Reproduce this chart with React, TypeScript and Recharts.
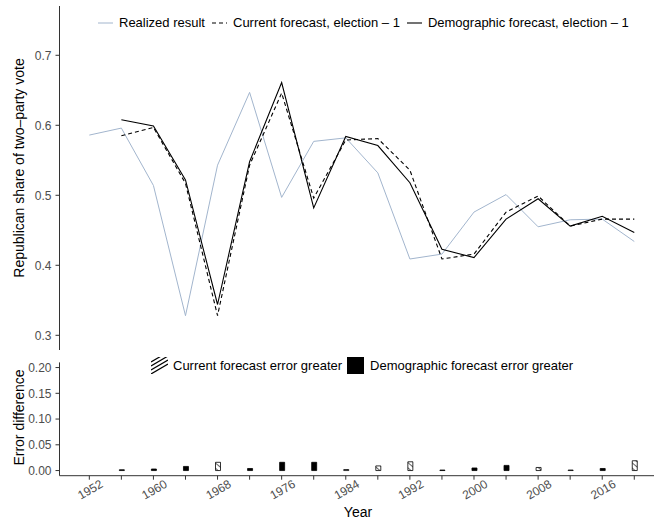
import React from "react";
import { LineChart, Line, BarChart, Bar, XAxis, YAxis, Legend } from "recharts";

const FONT = "'Liberation Sans', Arial, Helvetica, sans-serif";
const AXIS_TEXT = "#4d4d4d";
const AXIS_LINE = "#333333";
const REALIZED_BLUE = "#a2b5cd";

// election years shown on both panels
const years = [1952, 1956, 1960, 1964, 1968, 1972, 1976, 1980, 1984, 1988, 1992, 1996, 2000, 2004, 2008, 2012, 2016, 2020];

// Republican share of the two-party vote
const realized = [0.586, 0.596, 0.514, 0.328, 0.543, 0.647, 0.497, 0.577, 0.582, 0.532, 0.409, 0.416, 0.476, 0.501, 0.455, 0.465, 0.466, 0.434];
const currentForecast = [null, 0.585, 0.597, 0.517, 0.328, 0.543, 0.646, 0.496, 0.579, 0.581, 0.536, 0.409, 0.416, 0.476, 0.499, 0.456, 0.466, 0.466];
const demographicForecast = [null, 0.608, 0.599, 0.522, 0.344, 0.548, 0.661, 0.482, 0.584, 0.571, 0.518, 0.423, 0.411, 0.466, 0.495, 0.456, 0.47, 0.447];

// absolute error difference, split by which forecast missed by more
const currentErrorGreater = [null, null, null, null, 0.016, null, null, null, 0.002, 0.009, 0.017, null, null, null, 0.006, 0.001, null, 0.019];
const demographicErrorGreater = [null, 0.0015, 0.003, 0.008, null, 0.004, 0.016, 0.016, null, null, null, 0.001, 0.005, 0.01, null, null, 0.004, null];

const voteTicks = [0.3, 0.4, 0.5, 0.6, 0.7];
const errorTicks = [0, 0.05, 0.1, 0.15, 0.2];

const X_DOMAIN: [number, number] = [1948.28, 2022.46];

const lineLegend = [
  { label: "Realized result", color: REALIZED_BLUE, dash: undefined, width: 1 },
  { label: "Current forecast, election \u2013 1", color: "#000", dash: "4 3", width: 1.1 },
  { label: "Demographic forecast, election \u2013 1", color: "#000", dash: undefined, width: 1.1 },
];

function LineLegend() {
  return (
    <div style={{ display: "flex", alignItems: "center", fontFamily: FONT, fontSize: 13, color: "#000", whiteSpace: "nowrap" }}>
      {lineLegend.map((item) => (
        <div key={item.label} style={{ display: "flex", alignItems: "center", marginRight: 6 }}>
          <svg width={17} height={14} style={{ marginRight: 5 }}>
            <line x1={1} y1={7} x2={16} y2={7} stroke={item.color} strokeWidth={item.width} strokeDasharray={item.dash} />
          </svg>
          <span>{item.label}</span>
        </div>
      ))}
    </div>
  );
}

function ErrorLegend() {
  return (
    <div style={{ display: "flex", alignItems: "center", fontFamily: FONT, fontSize: 13, color: "#000", whiteSpace: "nowrap" }}>
      <svg width={17} height={17} style={{ marginRight: 5 }}>
        {[0, 4, 8, 12].map((o) => (
          <line key={o} x1={0} y1={17 - o} x2={17} y2={7 - o} stroke="#000" strokeWidth={1.2} />
        ))}
      </svg>
      <span style={{ marginRight: 5 }}>Current forecast error greater</span>
      <svg width={17} height={17} style={{ marginRight: 6 }}>
        <rect x={0} y={0} width={17} height={17} fill="#000" />
      </svg>
      <span>Demographic forecast error greater</span>
    </div>
  );
}

function YearTick(props: any) {
  const { x, y, payload } = props;
  if ((payload.value - 1952) % 8 !== 0) return <g />;
  const cy = y + 8;
  return (
    <text
      x={x + 1}
      y={cy}
      textAnchor="middle"
      dominantBaseline="central"
      transform={`rotate(-30 ${x + 1} ${cy})`}
      fill={AXIS_TEXT}
      fontSize={12}
      fontFamily={FONT}
    >
      {payload.value}
    </text>
  );
}

function axisTitle(text: string, x: number, y: number, rotate: boolean) {
  return () => (
    <text
      x={x}
      y={y}
      textAnchor="middle"
      dominantBaseline="central"
      transform={rotate ? `rotate(-90 ${x} ${y})` : undefined}
      fill="#000"
      fontSize={14}
      fontFamily={FONT}
    >
      {text}
    </text>
  );
}

export default function App() {
  const lineData = years.map((year, i) => ({
    year,
    realized: realized[i],
    current: currentForecast[i],
    demographic: demographicForecast[i],
  }));
  const errorData = years.map((year, i) => ({
    year,
    current: currentErrorGreater[i],
    demographic: demographicErrorGreater[i],
  }));

  const tickStyle = { fill: AXIS_TEXT, fontSize: 12, fontFamily: FONT };

  return (
    <div style={{ position: "absolute", left: 0, top: 0, width: 654, height: 523, background: "#fff", overflow: "hidden" }}>
      <div style={{ position: "absolute", left: 0, top: 0 }}>
        <LineChart width={654} height={356} data={lineData} margin={{ top: 6, right: 0, bottom: 6, left: 0 }}>
          <XAxis type="number" dataKey="year" domain={X_DOMAIN} allowDataOverflow hide />
          <YAxis
            type="number"
            domain={[0.279, 0.7704]}
            ticks={voteTicks}
            allowDataOverflow
            width={59.5}
            tickSize={4}
            tickMargin={4}
            tick={tickStyle}
            tickLine={{ stroke: AXIS_LINE }}
            axisLine={{ stroke: AXIS_LINE }}
            label={{ content: axisTitle("Republican share of two\u2013party vote", 19, 168, true) }}
          />
          <Legend
            layout="horizontal"
            verticalAlign="middle"
            align="center"
            content={() => <LineLegend />}
            wrapperStyle={{ top: 15, left: 97, width: "auto" }}
          />
          <Line type="linear" dataKey="realized" stroke={REALIZED_BLUE} strokeWidth={1} dot={false} isAnimationActive={false} />
          <Line type="linear" dataKey="current" stroke="#000" strokeWidth={1.1} strokeDasharray="4 3" dot={false} isAnimationActive={false} />
          <Line type="linear" dataKey="demographic" stroke="#000" strokeWidth={1.1} dot={false} isAnimationActive={false} />
        </LineChart>
      </div>
      <div style={{ position: "absolute", left: 0, top: 356 }}>
        <BarChart width={654} height={167} data={errorData} margin={{ top: 6.4, right: 0, bottom: 0, left: 0 }}>
          <defs>
            <pattern id="hatch" patternUnits="userSpaceOnUse" width={4} height={4} patternTransform="rotate(-50)">
              <rect width={4} height={4} fill="#fff" />
              <line x1={0} y1={0} x2={0} y2={4} stroke="#000" strokeWidth={1.2} />
            </pattern>
          </defs>
          <XAxis
            type="number"
            dataKey="year"
            domain={X_DOMAIN}
            allowDataOverflow
            ticks={years}
            interval={0}
            height={47.3}
            tickSize={4}
            tickMargin={2}
            tick={<YearTick />}
            tickLine={{ stroke: AXIS_LINE }}
            axisLine={{ stroke: AXIS_LINE }}
            label={{ content: axisTitle("Year", 358, 512 - 356, false) }}
          />
          <YAxis
            type="number"
            domain={[-0.01, 0.21]}
            ticks={errorTicks}
            allowDataOverflow
            width={59.5}
            tickSize={4}
            tickMargin={4}
            tick={tickStyle}
            tickFormatter={(v: number) => v.toFixed(2)}
            tickLine={{ stroke: AXIS_LINE }}
            axisLine={{ stroke: AXIS_LINE }}
            label={{ content: axisTitle("Error difference", 19, 417.5 - 356, true) }}
          />
          <Legend
            layout="horizontal"
            verticalAlign="middle"
            align="center"
            content={() => <ErrorLegend />}
            wrapperStyle={{ top: 1, left: 151, width: "auto" }}
          />
          <Bar dataKey="current" stackId="err" barSize={5} fill="url(#hatch)" stroke="#000" strokeWidth={0.8} isAnimationActive={false} />
          <Bar dataKey="demographic" stackId="err" barSize={5} fill="#000" stroke="#000" strokeWidth={0.8} isAnimationActive={false} />
        </BarChart>
      </div>
    </div>
  );
}
